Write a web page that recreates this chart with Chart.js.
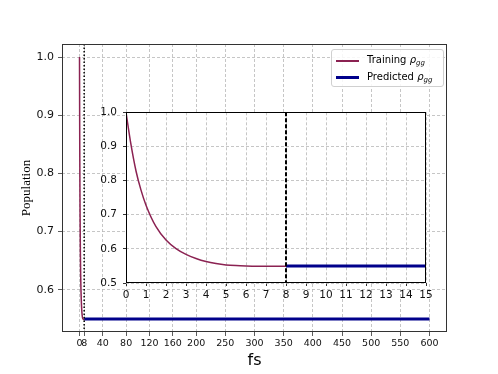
<!DOCTYPE html>
<html><head><meta charset="utf-8">
<script src="https://cdn.jsdelivr.net/npm/chart.js@4"></script>
<style>
html,body{margin:0;padding:0;background:#fff;}
#wrap{position:relative;width:498px;height:374px;overflow:hidden;background:#fff;}
#main{position:absolute;left:0;top:0;}
#inset{position:absolute;left:80px;top:100px;}
#legend{position:absolute;left:331px;top:49px;width:111px;height:36px;border:1px solid #d0d0d0;border-radius:3px;background:rgba(255,255,255,0.85);font-family:'DejaVu Sans';font-size:10px;color:#000;}
.sw{position:absolute;left:4px;width:23px;}
.lab{position:absolute;left:35px;white-space:nowrap;line-height:12px;}
.lab sub{font-size:7px;vertical-align:-2px;line-height:0;}
</style></head>
<body>
<div id="wrap">
<canvas id="main" width="498" height="374"></canvas>
<canvas id="inset" width="360" height="215"></canvas>
<div id="legend">
  <div class="sw" style="top:10px;height:2px;background:#8B2252;"></div>
  <div class="lab" style="top:4px;">Training <i>ρ</i><sub><i>gg</i></sub></div>
  <div class="sw" style="top:26px;height:3px;background:#00008B;"></div>
  <div class="lab" style="top:21px;">Predicted <i>ρ</i><sub><i>gg</i></sub></div>
</div>
</div>
<script>
// ---- data ----
const trainTime = [0, 0.25, 0.5, 0.75, 1, 1.5, 2, 2.5, 3, 3.5, 4, 4.5, 5, 5.5, 6, 7, 8];
const trainPop  = [1.000, 0.905, 0.828, 0.772, 0.728, 0.665, 0.626, 0.601, 0.584, 0.572, 0.563, 0.557, 0.553, 0.551, 0.550, 0.549, 0.549];
const predTime  = [8, 600];
const predPop   = [0.55, 0.55];
const TRAIN_END = 8;
const mainXTicks = [0, 8, 40, 80, 120, 160, 200, 250, 300, 350, 400, 450, 500, 550, 600];
const mainYTicks = [0.6, 0.7, 0.8, 0.9, 1.0];
const insetXTicks = [0,1,2,3,4,5,6,7,8,9,10,11,12,13,14,15];
const insetYTicks = [0.5, 0.6, 0.7, 0.8, 0.9, 1.0];

const TRAIN_COLOR = '#8B2252';
const PRED_COLOR = '#00008B';
const GRID = '#b8b8b8';
const xTickFont = {family: 'DejaVu Sans', size: 9.5};
const yTickFont = {family: 'DejaVu Sans', size: 11};
const insetFont = {family: 'DejaVu Sans', size: 10.5};

function pts(xs, ys){ return xs.map((x,i)=>({x:x, y:ys[i]})); }

const framePlugin = {
  id: 'frame',
  beforeDraw(chart, args, opts){
    if (opts.fill){
      const a = chart.chartArea, ctx = chart.ctx;
      ctx.save(); ctx.fillStyle = opts.fill;
      ctx.fillRect(a.left, a.top, a.right-a.left, a.bottom-a.top);
      ctx.restore();
    }
  },
  afterDatasetsDraw(chart, args, opts){
    const a = chart.chartArea, ctx = chart.ctx;
    const x = chart.scales.x.getPixelForValue(TRAIN_END);
    ctx.save();
    ctx.strokeStyle = '#000';
    ctx.lineWidth = opts.vWidth;
    ctx.setLineDash(opts.vDash);
    ctx.beginPath(); ctx.moveTo(x, a.top); ctx.lineTo(x, a.bottom); ctx.stroke();
    ctx.restore();
  },
  afterDraw(chart, args, opts){
    const a = chart.chartArea, ctx = chart.ctx;
    ctx.save();
    ctx.strokeStyle = opts.color; ctx.lineWidth = 1;
    const l = Math.round(a.left)+0.5, t = Math.round(a.top)+0.5;
    const r = Math.round(a.right)-0.5, b = Math.round(a.bottom)-0.5;
    ctx.strokeRect(l, t, r-l, b-t);
    ctx.restore();
  }
};

function datasets(){
  return [
    {data: pts(trainTime, trainPop), borderColor: TRAIN_COLOR, borderWidth: 1.5, cubicInterpolationMode: 'monotone', pointRadius: 0, fill: false},
    {data: pts(predTime, predPop), borderColor: PRED_COLOR, borderWidth: 3, pointRadius: 0, fill: false}
  ];
}

new Chart(document.getElementById('main'), {
  type: 'line',
  data: {datasets: datasets()},
  plugins: [framePlugin],
  options: {
    responsive: false, animation: false, devicePixelRatio: 1,
    layout: {padding: {left: 0, right: 51, top: 44, bottom: 0}},
    plugins: {legend: {display: false}, tooltip: {enabled: false},
      frame: {color: '#333', vWidth: 1.5, vDash: [1.5, 2]}},
    scales: {
      x: {
        type: 'linear', min: -30, max: 630,
        afterBuildTicks: s => { s.ticks = mainXTicks.map(v => ({value: v})); },
        afterFit: s => { s.height = 42; },
        ticks: {autoSkip: false, maxRotation: 0, minRotation: 0, padding: 2, color: '#111', font: xTickFont, callback: v => String(v)},
        grid: {color: GRID, lineWidth: 0.8, tickLength: 4, tickColor: '#333'},
        border: {display: false, dash: [3, 2]},
        title: {display: true, text: 'fs', color: '#000', font: {family: 'DejaVu Sans', size: 16}, padding: {top: 0, bottom: 4}}
      },
      y: {
        type: 'linear', min: 0.5275, max: 1.0225,
        afterBuildTicks: s => { s.ticks = mainYTicks.map(v => ({value: v})); },
        afterFit: s => { s.width = 62; },
        ticks: {padding: 4, color: '#111', font: yTickFont, callback: v => v.toFixed(1)},
        grid: {color: GRID, lineWidth: 0.8, tickLength: 4, tickColor: '#333'},
        border: {display: false, dash: [3, 2]},
        title: {display: true, text: 'Population', color: '#000', font: {family: 'Liberation Serif', size: 13}, padding: {top: 19, bottom: 0}}
      }
    }
  }
});

new Chart(document.getElementById('inset'), {
  type: 'line',
  data: {datasets: datasets()},
  plugins: [framePlugin],
  options: {
    responsive: false, animation: false, devicePixelRatio: 1,
    layout: {padding: {left: 0, right: 14, top: 12, bottom: 16}},
    plugins: {legend: {display: false}, tooltip: {enabled: false},
      frame: {color: '#000', fill: '#fff', vWidth: 2, vDash: [4, 2]}},
    scales: {
      x: {
        type: 'linear', min: 0, max: 15,
        afterBuildTicks: s => { s.ticks = insetXTicks.map(v => ({value: v})); },
        afterFit: s => { s.height = 16; },
        ticks: {autoSkip: false, maxRotation: 0, minRotation: 0, padding: 3, color: '#111', font: insetFont, callback: v => String(v)},
        grid: {color: GRID, lineWidth: 0.8, tickLength: 3, tickColor: '#000'},
        border: {display: false, dash: [3, 2]}
      },
      y: {
        type: 'linear', min: 0.5, max: 1.0,
        afterBuildTicks: s => { s.ticks = insetYTicks.map(v => ({value: v})); },
        afterFit: s => { s.width = 46; },
        ticks: {padding: 6, color: '#111', font: insetFont, callback: v => v.toFixed(1)},
        grid: {color: GRID, lineWidth: 0.8, tickLength: 3, tickColor: '#000'},
        border: {display: false, dash: [3, 2]}
      }
    }
  }
});
</script>
</body></html>
